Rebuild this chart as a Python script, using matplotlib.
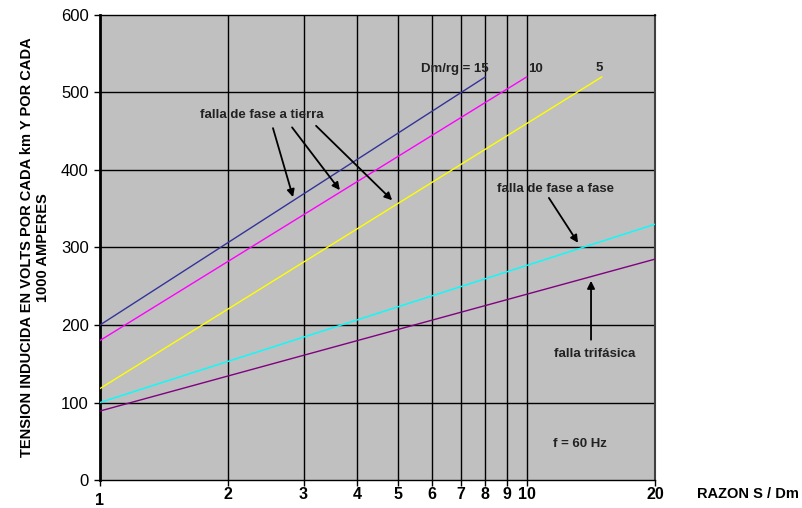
import matplotlib
matplotlib.use("Agg")
import matplotlib.pyplot as plt
from matplotlib.transforms import ScaledTranslation

plt.rcParams['font.family'] = ['Liberation Sans', 'DejaVu Sans']

# Data: each line defined by its end points (ratio S/Dm, induced voltage)
dm15_x = [1, 8];   dm15_y = [200, 520]
dm10_x = [1, 10];  dm10_y = [180, 520]
dm5_x = [1, 15];   dm5_y = [118, 520]
fase_fase_x = [1, 20]; fase_fase_y = [100, 330]
trifasica_x = [1, 20]; trifasica_y = [89, 285]

x_ticks = [1, 2, 3, 4, 5, 6, 7, 8, 9, 10, 20]
x_tick_labels = ['1', '2', '3', '4', '5', '6', '7', '8', '9', '10', '20']
y_ticks = [0, 100, 200, 300, 400, 500, 600]

fig = plt.figure(figsize=(8.03, 5.08), dpi=100)
ax = fig.add_axes([0.1245, 0.0551, 0.6912, 0.9154])
ax.set_facecolor('#C0C0C0')
ax.set_xscale('log')
ax.set_xlim(1, 20)
ax.set_ylim(0, 600)

# grid lines
for xv in x_ticks[1:-1]:
    ax.axvline(xv, color='black', lw=1.0, zorder=1)
for yv in y_ticks[1:-1]:
    ax.axhline(yv, color='black', lw=1.0, zorder=1)

ax.plot(dm15_x, dm15_y, color='#333399', lw=1.0, zorder=3)
ax.plot(dm10_x, dm10_y, color='#FF00FF', lw=1.0, zorder=3)
ax.plot(dm5_x, dm5_y, color='#FFFF00', lw=1.0, zorder=3)
ax.plot(fase_fase_x, fase_fase_y, color='#00FFFF', lw=1.0, zorder=3)
ax.plot(trifasica_x, trifasica_y, color='#800080', lw=1.0, zorder=3)

ax.set_xticks(x_ticks)
ax.set_xticklabels(x_tick_labels, fontweight='bold', fontsize=11.5)
ax.xaxis.set_minor_locator(matplotlib.ticker.NullLocator())
ax.set_yticks(y_ticks)
ax.set_yticklabels([str(v) for v in y_ticks], fontsize=12)
ax.tick_params(axis='both', direction='out', length=4, width=1, color='black')
ax.tick_params(axis='y', pad=4)
ax.tick_params(axis='x', pad=1)

# lower the "1" label
lbl = ax.get_xticklabels()[0]
lbl.set_transform(lbl.get_transform() + ScaledTranslation(0, -4/72, fig.dpi_scale_trans))

ax.spines['left'].set_linewidth(2)
ax.spines['right'].set_color('#404040')
ax.spines['right'].set_linewidth(1.5)
ax.spines['top'].set_linewidth(1)
ax.spines['bottom'].set_linewidth(1)

ax.set_ylabel('TENSION INDUCIDA EN VOLTS POR CADA km Y POR CADA\n1000 AMPERES',
              fontweight='bold', fontsize=10.5, linespacing=1.15, labelpad=8)
fig.text(0.931, 0.028, 'RAZON S / Dm', fontweight='bold', fontsize=10.5,
         ha='center', va='center')

tfs = 9.5
tc = '#222222'
ax.text(6.8, 530, 'Dm/rg = 15', fontweight='bold', fontsize=tfs, ha='center', va='center', color=tc)
ax.text(10.5, 530, '10', fontweight='bold', fontsize=tfs, ha='center', va='center', color=tc)
ax.text(14.8, 532, '5', fontweight='bold', fontsize=tfs, ha='center', va='center', color=tc)

ap = dict(arrowstyle='-|>', color='black', lw=1.3, mutation_scale=11, shrinkA=0, shrinkB=0)
ax.text(2.40, 471, 'falla de fase a tierra', fontweight='bold', fontsize=tfs,
        ha='center', va='center', color=tc)
ax.annotate('', xy=(2.835, 365), xytext=(2.544, 454), arrowprops=ap)
ax.annotate('', xy=(3.65, 374), xytext=(2.82, 455), arrowprops=ap)
ax.annotate('', xy=(4.84, 361), xytext=(3.21, 457), arrowprops=ap)

ax.text(11.72, 375, 'falla de fase a fase', fontweight='bold', fontsize=tfs,
        ha='center', va='center', color=tc)
ax.annotate('', xy=(13.2, 306), xytext=(11.28, 364), arrowprops=ap)

ax.text(14.47, 163, 'falla trifásica', fontweight='bold', fontsize=tfs,
        ha='center', va='center', color=tc)
ax.annotate('', xy=(14.16, 257), xytext=(14.16, 181), arrowprops=ap)

ax.text(13.35, 46, 'f = 60 Hz', fontweight='bold', fontsize=tfs,
        ha='center', va='center', color=tc)

fig.savefig('out.png', dpi=100)
